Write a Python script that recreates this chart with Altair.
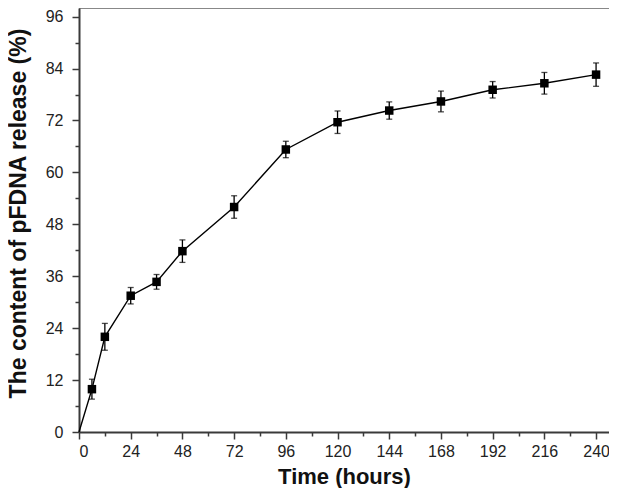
import altair as alt
import pandas as pd

hours = [6, 12, 24, 36, 48, 72, 96, 120, 144, 168, 192, 216, 240]
release = [9.9, 22.0, 31.5, 34.7, 41.8, 52.0, 65.3, 71.6, 74.3, 76.4, 79.1, 80.6, 82.6]
err = [2.3, 3.1, 1.9, 1.7, 2.6, 2.6, 1.9, 2.6, 2.0, 2.4, 1.9, 2.5, 2.7]

line_hours = [0] + hours
line_release = [0] + release

x_major = [0, 24, 48, 72, 96, 120, 144, 168, 192, 216, 240]
x_minor = [12, 36, 60, 84, 108, 132, 156, 180, 204, 228]
y_major = [0, 12, 24, 36, 48, 60, 72, 84, 96]
y_minor = [6, 18, 30, 42, 54, 66, 78, 90]

pts = pd.DataFrame({"t": hours, "v": release, "e": err})
pts["lo"] = pts["v"] - pts["e"]
pts["hi"] = pts["v"] + pts["e"]
line_df = pd.DataFrame({"t": line_hours, "v": line_release})

FONT = "Liberation Sans"
AX = "#3a3a3a"

PW, PH = 530, 424

xs = alt.Scale(domain=[0, 246], nice=False, zero=False)
ys = alt.Scale(domain=[0, 98], nice=False, zero=False)

x_axis = alt.Axis(
    values=x_major, orient="bottom", title="Time (hours)", tickSize=7, tickWidth=1.5,
    tickColor=AX, domainColor=AX, domainWidth=2, labelFont=FONT, labelFontSize=16,
    labelColor="#222222", labelPadding=4, grid=False, titleFont=FONT, titleFontSize=22,
    titleFontWeight="bold", titleColor="#111111", titleX=PW / 2, titleY=51,
    titleBaseline="alphabetic", titleAlign="center",
)
y_axis = alt.Axis(
    values=y_major, orient="left", title="The content of pFDNA release (%)", tickSize=7,
    tickWidth=1.5, tickColor=AX, domainColor=AX, domainWidth=2, labelFont=FONT,
    labelFontSize=16, labelColor="#222222", labelPadding=9, grid=False, titleFont=FONT,
    titleFontSize=23, titleFontWeight="bold", titleColor="#111111", titleAngle=270,
    titleX=-54, titleY=205, titleBaseline="alphabetic", titleAlign="center",
)
x_minor_axis = alt.Axis(
    values=x_minor, orient="bottom", title=None, labels=False, domain=False, tickSize=4,
    tickWidth=1.5, tickColor=AX, grid=False,
)
y_minor_axis = alt.Axis(
    values=y_minor, orient="left", title=None, labels=False, domain=False, tickSize=4,
    tickWidth=1.5, tickColor=AX, grid=False,
)

line = alt.Chart(line_df).mark_line(color="black", strokeWidth=1.4).encode(
    x=alt.X("t:Q", scale=xs, axis=x_axis),
    y=alt.Y("v:Q", scale=ys, axis=y_axis),
)
minor = alt.Chart(line_df).mark_point(opacity=0).encode(
    x=alt.X("t:Q", scale=xs, axis=x_minor_axis),
    y=alt.Y("v:Q", scale=ys, axis=y_minor_axis),
)
bars = alt.Chart(pts).mark_rule(color="black", strokeWidth=1.3).encode(
    x=alt.X("t:Q", scale=xs), y=alt.Y("lo:Q", scale=ys), y2="hi:Q"
)
cap_lo = alt.Chart(pts).mark_tick(color="black", thickness=1.3, size=6, orient="horizontal").encode(
    x=alt.X("t:Q", scale=xs), y=alt.Y("lo:Q", scale=ys)
)
cap_hi = alt.Chart(pts).mark_tick(color="black", thickness=1.3, size=6, orient="horizontal").encode(
    x=alt.X("t:Q", scale=xs), y=alt.Y("hi:Q", scale=ys)
)
marks = alt.Chart(pts).mark_point(shape="square", filled=True, color="black", size=72, opacity=1).encode(
    x=alt.X("t:Q", scale=xs), y=alt.Y("v:Q", scale=ys)
)

chart = alt.layer(line, minor, bars, cap_lo, cap_hi, marks).resolve_axis(
    x="independent", y="independent"
).properties(
    width=PW, height=PH,
    autosize=alt.AutoSizeParams(type="none"),
    padding={"left": 71, "top": 0, "right": 0, "bottom": 56},
).configure_view(stroke=None).configure(background="white")

chart.save("out.html", embed_options={"renderer": "svg", "actions": False})
